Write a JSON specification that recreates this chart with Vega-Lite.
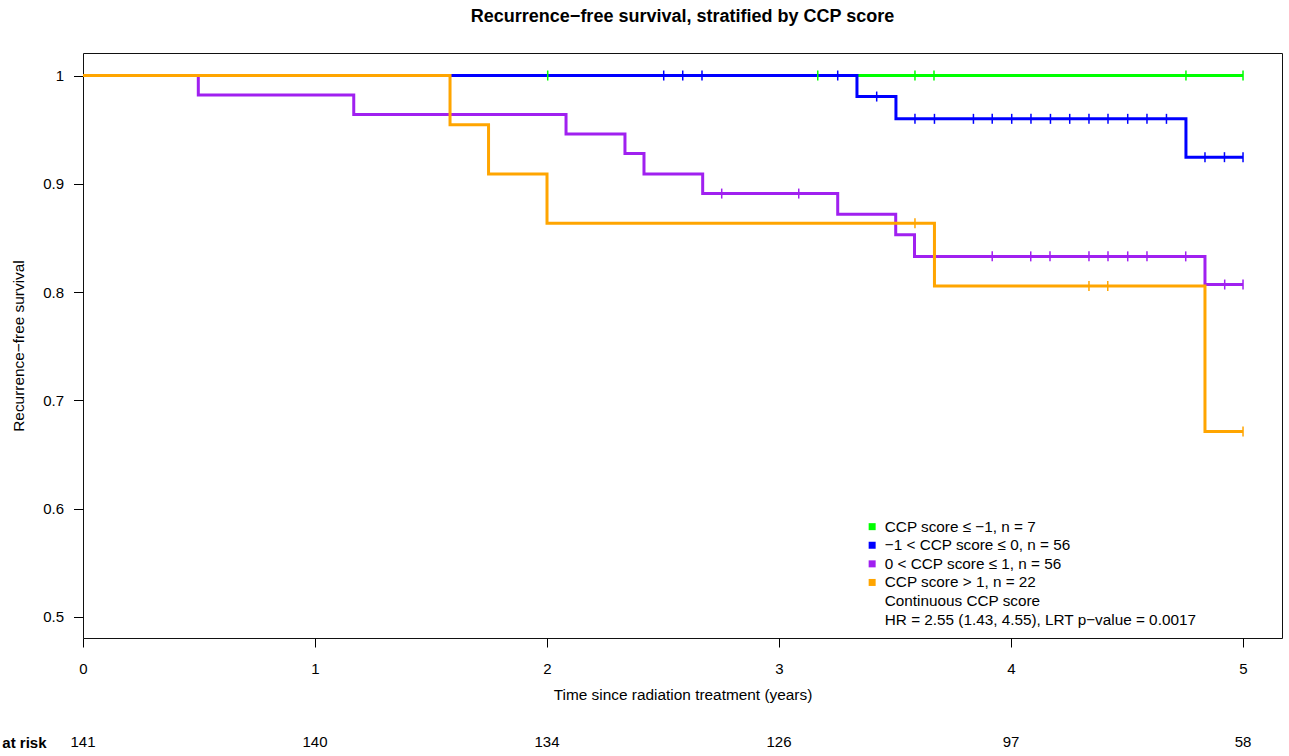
{
  "$schema": "https://vega.github.io/schema/vega-lite/v6.json",
  "padding": {"left": 1, "top": 7, "right": 8, "bottom": 2},
  "background": "white",
  "config": {
    "font": "Liberation Sans",
    "view": {"stroke": null},
    "axis": {"grid": false, "domain": false, "tickColor": "black", "labelColor": "black", "titleColor": "black", "labelFont": "Liberation Sans", "titleFont": "Liberation Sans", "labelFontSize": 15, "titleFontSize": 15.4, "titleFontWeight": "normal", "labelFlush": false, "labelOverlap": false}
  },
  "datasets": {
    "curves": [
      {"g": "CCP score  ≤ −1, n = 7", "t": 0, "s": 1},
      {"g": "CCP score  ≤ −1, n = 7", "t": 5, "s": 1},
      {"g": "−1 <  CCP score  ≤ 0, n = 56", "t": 0, "s": 1},
      {"g": "−1 <  CCP score  ≤ 0, n = 56", "t": 3.336, "s": 0.9806},
      {"g": "−1 <  CCP score  ≤ 0, n = 56", "t": 3.504, "s": 0.960},
      {"g": "−1 <  CCP score  ≤ 0, n = 56", "t": 4.754, "s": 0.9246},
      {"g": "−1 <  CCP score  ≤ 0, n = 56", "t": 5, "s": 0.9246},
      {"g": "0 <  CCP score  ≤ 1, n = 56", "t": 0, "s": 1},
      {"g": "0 <  CCP score  ≤ 1, n = 56", "t": 0.497, "s": 0.982},
      {"g": "0 <  CCP score  ≤ 1, n = 56", "t": 1.167, "s": 0.964},
      {"g": "0 <  CCP score  ≤ 1, n = 56", "t": 2.082, "s": 0.946},
      {"g": "0 <  CCP score  ≤ 1, n = 56", "t": 2.336, "s": 0.928},
      {"g": "0 <  CCP score  ≤ 1, n = 56", "t": 2.418, "s": 0.909},
      {"g": "0 <  CCP score  ≤ 1, n = 56", "t": 2.671, "s": 0.891},
      {"g": "0 <  CCP score  ≤ 1, n = 56", "t": 3.253, "s": 0.872},
      {"g": "0 <  CCP score  ≤ 1, n = 56", "t": 3.503, "s": 0.853},
      {"g": "0 <  CCP score  ≤ 1, n = 56", "t": 3.584, "s": 0.833},
      {"g": "0 <  CCP score  ≤ 1, n = 56", "t": 4.836, "s": 0.807},
      {"g": "0 <  CCP score  ≤ 1, n = 56", "t": 5, "s": 0.807},
      {"g": "CCP score  > 1, n = 22", "t": 0, "s": 1},
      {"g": "CCP score  > 1, n = 22", "t": 1.582, "s": 0.9545},
      {"g": "CCP score  > 1, n = 22", "t": 1.748, "s": 0.909},
      {"g": "CCP score  > 1, n = 22", "t": 2.0, "s": 0.8636},
      {"g": "CCP score  > 1, n = 22", "t": 3.67, "s": 0.8056},
      {"g": "CCP score  > 1, n = 22", "t": 4.836, "s": 0.6713},
      {"g": "CCP score  > 1, n = 22", "t": 5, "s": 0.6713}
    ],
    "censor": [
      {"g": "CCP score  ≤ −1, n = 7", "t": 2.003, "s": 1},
      {"g": "CCP score  ≤ −1, n = 7", "t": 3.167, "s": 1},
      {"g": "CCP score  ≤ −1, n = 7", "t": 3.586, "s": 1},
      {"g": "CCP score  ≤ −1, n = 7", "t": 3.668, "s": 1},
      {"g": "CCP score  ≤ −1, n = 7", "t": 4.754, "s": 1},
      {"g": "CCP score  ≤ −1, n = 7", "t": 5.0, "s": 1},
      {"g": "−1 <  CCP score  ≤ 0, n = 56", "t": 2.503, "s": 1},
      {"g": "−1 <  CCP score  ≤ 0, n = 56", "t": 2.585, "s": 1},
      {"g": "−1 <  CCP score  ≤ 0, n = 56", "t": 2.668, "s": 1},
      {"g": "−1 <  CCP score  ≤ 0, n = 56", "t": 3.253, "s": 1},
      {"g": "−1 <  CCP score  ≤ 0, n = 56", "t": 3.421, "s": 0.9806},
      {"g": "−1 <  CCP score  ≤ 0, n = 56", "t": 3.586, "s": 0.96},
      {"g": "−1 <  CCP score  ≤ 0, n = 56", "t": 3.67, "s": 0.96},
      {"g": "−1 <  CCP score  ≤ 0, n = 56", "t": 3.838, "s": 0.96},
      {"g": "−1 <  CCP score  ≤ 0, n = 56", "t": 3.919, "s": 0.96},
      {"g": "−1 <  CCP score  ≤ 0, n = 56", "t": 4.003, "s": 0.96},
      {"g": "−1 <  CCP score  ≤ 0, n = 56", "t": 4.086, "s": 0.96},
      {"g": "−1 <  CCP score  ≤ 0, n = 56", "t": 4.17, "s": 0.96},
      {"g": "−1 <  CCP score  ≤ 0, n = 56", "t": 4.253, "s": 0.96},
      {"g": "−1 <  CCP score  ≤ 0, n = 56", "t": 4.336, "s": 0.96},
      {"g": "−1 <  CCP score  ≤ 0, n = 56", "t": 4.418, "s": 0.96},
      {"g": "−1 <  CCP score  ≤ 0, n = 56", "t": 4.503, "s": 0.96},
      {"g": "−1 <  CCP score  ≤ 0, n = 56", "t": 4.586, "s": 0.96},
      {"g": "−1 <  CCP score  ≤ 0, n = 56", "t": 4.67, "s": 0.96},
      {"g": "−1 <  CCP score  ≤ 0, n = 56", "t": 4.836, "s": 0.9246},
      {"g": "−1 <  CCP score  ≤ 0, n = 56", "t": 4.92, "s": 0.9246},
      {"g": "−1 <  CCP score  ≤ 0, n = 56", "t": 5.0, "s": 0.9246},
      {"g": "0 <  CCP score  ≤ 1, n = 56", "t": 2.753, "s": 0.891},
      {"g": "0 <  CCP score  ≤ 1, n = 56", "t": 3.085, "s": 0.891},
      {"g": "0 <  CCP score  ≤ 1, n = 56", "t": 3.919, "s": 0.833},
      {"g": "0 <  CCP score  ≤ 1, n = 56", "t": 4.085, "s": 0.833},
      {"g": "0 <  CCP score  ≤ 1, n = 56", "t": 4.168, "s": 0.833},
      {"g": "0 <  CCP score  ≤ 1, n = 56", "t": 4.336, "s": 0.833},
      {"g": "0 <  CCP score  ≤ 1, n = 56", "t": 4.418, "s": 0.833},
      {"g": "0 <  CCP score  ≤ 1, n = 56", "t": 4.503, "s": 0.833},
      {"g": "0 <  CCP score  ≤ 1, n = 56", "t": 4.586, "s": 0.833},
      {"g": "0 <  CCP score  ≤ 1, n = 56", "t": 4.753, "s": 0.833},
      {"g": "0 <  CCP score  ≤ 1, n = 56", "t": 4.921, "s": 0.807},
      {"g": "0 <  CCP score  ≤ 1, n = 56", "t": 5.0, "s": 0.807},
      {"g": "CCP score  > 1, n = 22", "t": 3.586, "s": 0.8636},
      {"g": "CCP score  > 1, n = 22", "t": 4.336, "s": 0.8056},
      {"g": "CCP score  > 1, n = 22", "t": 4.417, "s": 0.8056},
      {"g": "CCP score  > 1, n = 22", "t": 5.0, "s": 0.6713}
    ],
    "risk": [
      {"lab": "at risk", "t": 0, "n": 141},
      {"lab": "at risk", "t": 1, "n": 140},
      {"lab": "at risk", "t": 2, "n": 134},
      {"lab": "at risk", "t": 3, "n": 126},
      {"lab": "at risk", "t": 4, "n": 97},
      {"lab": "at risk", "t": 5, "n": 58}
    ]
  },
  "spacing": 29,
  "vconcat": [
    {
      "width": 1199,
      "height": 585,
      "view": {"stroke": "#111", "strokeWidth": 1},
      "title": {"text": "Recurrence−free survival, stratified by CCP score", "fontSize": 18, "fontWeight": "bold", "font": "Liberation Sans", "color": "black", "offset": 27, "anchor": "middle", "frame": "group"},
      "layer": [
        {
          "data": {"name": "curves"},
          "mark": {"type": "line", "interpolate": "step-after", "strokeWidth": 3, "clip": true},
          "encoding": {
            "x": {"field": "t", "type": "quantitative", "scale": {"domain": [0, 5.168], "nice": false, "zero": false}, "axis": {"values": [0, 1, 2, 3, 4, 5], "format": "d", "tickSize": 9, "labelPadding": 14, "titlePadding": 11, "title": "Time since radiation treatment (years)"}},
            "y": {"field": "s", "type": "quantitative", "scale": {"domain": [0.4806, 1.0208], "nice": false, "zero": false}, "axis": {"values": [0.5, 0.6, 0.7, 0.8, 0.9, 1], "format": "~g", "tickSize": 9.5, "labelPadding": 10, "titlePadding": 16, "title": "Recurrence−free survival"}},
            "color": {
              "field": "g", "type": "nominal",
              "scale": {
                "domain": ["CCP score  ≤ −1, n = 7", "−1 <  CCP score  ≤ 0, n = 56", "0 <  CCP score  ≤ 1, n = 56", "CCP score  > 1, n = 22", "Continuous CCP score", "HR = 2.55 (1.43, 4.55), LRT p−value = 0.0017"],
                "range": ["#00FF00", "#0000FF", "#A020F0", "#FFA500", "transparent", "transparent"]
              },
              "legend": {
                "title": null, "orient": "none", "legendX": 781.5, "legendY": 466,
                "symbolType": "square", "symbolSize": 49, "symbolStrokeWidth": 0,
                "labelFontSize": 15.3, "labelFont": "Liberation Sans", "labelColor": "black",
                "labelOffset": 5, "rowPadding": 2.6, "padding": 0, "labelLimit": 600,
                "encode": {"symbols": {"update": {"fill": {"scale": "color", "field": "value"}, "stroke": {"value": "transparent"}, "opacity": {"value": 1}}}}
              }
            }
          }
        },
        {
          "data": {"name": "censor"},
          "mark": {"type": "tick", "orient": "vertical", "size": 10, "thickness": 1.5, "opacity": 1},
          "encoding": {
            "x": {"field": "t", "type": "quantitative"},
            "y": {"field": "s", "type": "quantitative"},
            "color": {"field": "g", "type": "nominal"}
          }
        }
      ]
    },
    {
      "width": 1199,
      "height": 20,
      "data": {"name": "risk"},
      "mark": {"type": "text", "fontSize": 15, "color": "black", "font": "Liberation Sans"},
      "encoding": {
        "x": {"field": "t", "type": "quantitative", "scale": {"domain": [0, 5.168], "nice": false, "zero": false}, "axis": null},
        "y": {"field": "lab", "type": "nominal", "axis": {"title": null, "labelFontWeight": "bold", "labelFontSize": 15, "ticks": false, "domain": false, "labelPadding": 37, "labelColor": "black"}},
        "text": {"field": "n", "type": "quantitative"}
      }
    }
  ]
}
